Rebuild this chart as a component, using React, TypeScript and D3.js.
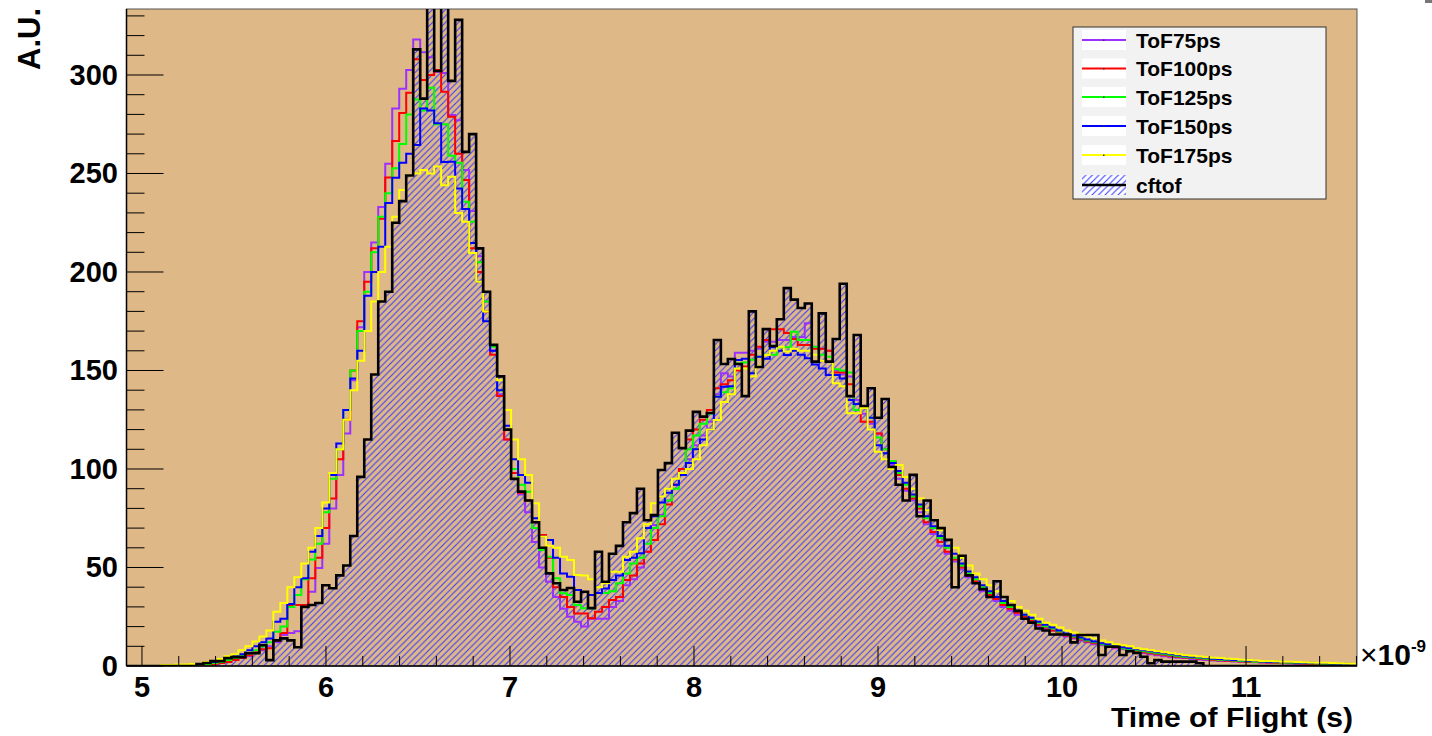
import React from 'react';
import * as d3 from 'd3';

// ---------- data ----------
const BIN_START = 4.916; // in units of 1e-9 s
const BIN_WIDTH = 0.038;
const X_DOMAIN: [number, number] = [4.916, 11.603];
const Y_DOMAIN: [number, number] = [0, 333.5];
const X_TICKS = [5, 6, 7, 8, 9, 10, 11];
const Y_TICKS = [0, 50, 100, 150, 200, 250, 300];

const cftof = [
  0, 0, 0, 0, 0, 0, 0, 0, 0, 0,
  1, 1.5, 2.5, 2.5, 4, 4.5, 4.5, 6.5, 6.5, 10.5,
  3, 13, 14, 13, 9.5, 30, 31, 32, 41, 39.5,
  46, 51, 66, 96, 115, 148, 185, 190, 225, 236,
  249, 313, 288, 345, 302, 345, 297, 328, 261, 270,
  212, 190, 163, 147, 120, 95, 88.5, 84, 73, 60,
  47, 42, 38.6, 39.6, 32.6, 37.7, 29.4, 58, 42.8, 57,
  61, 73, 77.6, 90, 74, 76.6, 99.5, 103, 118.4, 110.6,
  119.5, 129, 126.6, 128.4, 165.5, 153.3, 155.8, 153.3, 137, 180,
  151.8, 171, 162.4, 176, 191.8, 186, 181.7, 184, 154.5, 179,
  154.5, 166, 194, 137, 168, 132, 141, 126, 135.5, 101,
  92, 84, 97, 76, 84, 74, 70, 64, 40, 56,
  46, 42, 39, 35, 43, 35, 31, 28, 24, 22,
  19, 18, 16, 16, 16, 12, 15.7, 15.7, 15.7, 5.6,
  9.8, 9.8, 5.6, 7.5, 6.6, 4.7, 1.4, 3, 2.2, 2.2,
  2.2, 2.2, 2.2, 1.4, 0, 0, 0, 0, 0, 0,
  0, 0, 0, 0, 0, 0, 0, 0, 0, 0, 0, 0, 0, 0, 0, 0,
];

const tof75 = [
  0, 0, 0, 0, 0, 0, 0, 0, 0.3, 0.3,
  0.5, 1, 1, 1.5, 2, 3, 4, 5, 7, 8,
  10, 12, 15.7, 16.7, 17.7, 30, 37.7, 49.7, 62, 80,
  97, 118, 145, 172, 200, 215, 233, 255, 283, 293,
  302.5, 318, 311.6, 309, 301.7, 301, 279.7, 277, 251.8, 231,
  208, 185, 160, 138, 115, 98, 87, 78, 63, 50,
  42.8, 35, 29, 25, 22.5, 20, 24, 24, 24, 30,
  33, 41, 44, 50, 58, 71.6, 76.6, 84, 92, 98,
  105, 112, 117, 124, 138, 148.6, 147, 159, 159, 160,
  161, 164.6, 164.6, 165.5, 165.5, 167, 167, 174, 162, 161,
  160, 150, 148, 147, 135, 128, 123, 118, 108, 102,
  95, 89, 84, 78, 72, 67, 61, 57, 53, 49,
  45, 42, 38, 35, 33, 30, 28, 26, 24, 22,
  20, 19, 18, 16, 15, 14, 13, 12, 11, 10.5,
  10, 9, 8.5, 8, 7, 6.5, 6, 5.5, 5, 4.5,
  4.2, 4, 3.6, 3.3, 3, 2.8, 2.6, 2.5, 2.3, 2.1,
  2, 1.9, 1.8, 1.6, 1.5, 1.4, 1.3, 1.2, 1.1, 1,
  1, 0.9, 0.8, 0.7, 0.6, 0.5,
];

const tof100 = [
  0, 0, 0, 0, 0, 0, 0, 0, 0.3, 0.5,
  0.5, 0.8, 1, 1.5, 2, 3, 4, 5.5, 7, 8.5,
  9, 13, 16.7, 31, 31, 31, 44.6, 55, 70, 85,
  105, 125, 150, 175, 195, 212, 227, 248, 266.5, 280.7,
  291, 308, 297.5, 300, 302.5, 291.5, 278.8, 260, 246.7, 212,
  200, 180, 158, 137, 115, 98, 88, 84, 73, 66.5,
  55, 40, 35, 30, 26.7, 26.7, 24.2, 27.6, 30, 33.5,
  35, 43.7, 46, 52, 58, 64, 72, 82, 92, 100,
  115, 120, 125, 130, 141, 143, 145, 150, 152, 158,
  162, 165.5, 171, 171, 169, 166, 163, 163, 161, 161,
  160, 149, 149, 143, 133, 124, 124, 118, 110, 104,
  97, 90, 85, 80, 73, 68, 63, 58, 54, 50,
  46, 43, 39, 36, 34, 31, 29, 27, 25, 23,
  21, 19.5, 18, 17, 15.5, 14.5, 13.5, 12.5, 11.5, 11,
  10, 9.5, 9, 8, 7.5, 7, 6.5, 6, 5.5, 5,
  4.6, 4.3, 4, 3.7, 3.4, 3.1, 2.9, 2.7, 2.5, 2.3,
  2.2, 2, 1.9, 1.8, 1.7, 1.6, 1.5, 1.4, 1.3, 1.2,
  1.1, 1, 0.9, 0.8, 0.7, 0.6,
];

const tof125 = [
  0, 0, 0, 0, 0, 0, 0, 0.3, 0.5, 0.5,
  0.8, 1, 1.5, 2, 3, 4, 5, 6.5, 8, 10,
  12, 17.4, 20, 30, 36, 44, 54, 62, 78, 95,
  110, 130, 150, 170, 190, 210, 228, 240, 252.6, 265,
  280, 287.6, 282, 293.5, 275, 275, 259, 255.5, 235.7, 225.5,
  205, 185, 162, 140, 120, 100, 92, 88.5, 70, 58.9,
  55.5, 44.5, 36.9, 36, 31, 29.3, 29.3, 37, 37, 38,
  42, 47, 52, 55, 62, 70, 76, 84, 90, 97,
  110, 117, 123, 128, 136.7, 139, 141, 153.6, 154, 155.5,
  157, 158, 158, 161.8, 161.8, 169.7, 165.5, 165.5, 162, 158,
  157, 150.6, 150, 149, 130, 131, 126, 116, 110, 104,
  98, 92, 86, 81, 75, 70, 65, 60, 55, 51,
  47, 44, 40, 37, 35, 32, 30, 28, 26, 24,
  22, 20, 19, 17.5, 16, 15, 14, 13, 12, 11,
  10.5, 10, 9, 8.5, 8, 7.5, 7, 6.5, 6, 5.5,
  5, 4.6, 4.3, 4, 3.7, 3.4, 3.2, 3, 2.8, 2.6,
  2.4, 2.2, 2.1, 2, 1.9, 1.8, 1.7, 1.6, 1.5, 1.4,
  1.3, 1.2, 1.1, 1, 0.9, 0.8,
];

const tof150 = [
  0, 0, 0, 0, 0, 0, 0.3, 0.3, 0.5, 0.8,
  1, 1.5, 2, 3, 4, 5, 6, 8, 10, 12,
  14, 22.5, 24, 31.5, 40, 44.6, 58, 66, 80, 97,
  113, 130, 146, 160, 188, 200, 212.8, 235, 247.9, 255.5,
  260, 264.5, 283, 282, 275.5, 255.8, 256, 242.4, 232, 214.7,
  195, 175, 160, 140, 122, 105, 97, 93, 75, 65.6,
  64, 55, 47, 45.3, 38.6, 37.6, 36, 37, 39.4, 43.7,
  46, 53.8, 55, 57.2, 70, 76, 83, 88, 92, 97,
  103, 110, 115, 120, 136.7, 141.8, 142, 155.3, 156, 148.6,
  157, 156, 161.8, 160, 157.9, 160, 158, 156.2, 153, 151,
  147.7, 147.7, 146, 135, 133, 131.6, 126, 112, 108, 103,
  99, 93, 87, 82, 76, 71, 66, 61, 57, 52,
  48, 45, 41, 38, 35, 33, 31, 28, 26, 24.5,
  22.5, 21, 19.5, 18, 16.5, 15.5, 14.5, 13.5, 12.5, 11.5,
  11, 10, 9.5, 9, 8.5, 8, 7.5, 7, 6.5, 6,
  5.5, 5, 4.7, 4.4, 4, 3.7, 3.5, 3.3, 3.1, 2.9,
  2.7, 2.5, 2.3, 2.2, 2.1, 2, 1.9, 1.8, 1.7, 1.6,
  1.5, 1.4, 1.3, 1.2, 1.1, 1,
];

const tof175 = [
  0, 0, 0, 0, 0, 0.5, 0.5, 0.8, 0.8, 1,
  1, 2, 2.5, 3.5, 5, 6, 8, 10, 12.5, 15,
  18, 27.6, 32, 40, 45, 52, 60, 70, 83, 98,
  110, 125, 140, 155, 170, 185, 200, 212.8, 228, 241.6,
  249, 250, 251.8, 250, 253.5, 244, 248.4, 229.9, 225.5, 209.6,
  195, 180, 163, 145, 130, 115, 105, 97, 82.6, 65.6,
  61, 60, 55.5, 53.8, 46.2, 46, 44, 40, 42, 47.9,
  47.9, 55.5, 58, 64.8, 72, 82.6, 86, 90, 95, 98,
  100, 105, 112, 120, 124.9, 134, 138, 151, 151, 146.9,
  152, 157.9, 160, 162, 159.6, 161, 160, 160, 158, 155,
  154.5, 143.5, 142, 128.3, 128.3, 131, 120, 108.8, 105, 100,
  102, 96, 90, 85, 79, 74, 69, 64, 60, 55,
  51, 47, 44, 41, 38, 35, 33, 30, 28, 26,
  24, 22, 21, 19.5, 18, 17, 16, 15, 14, 13,
  12, 11, 10.5, 10, 9, 8.5, 8, 7.5, 7, 6.5,
  6, 5.5, 5.2, 4.8, 4.5, 4.2, 4, 3.7, 3.5, 3.2,
  3, 2.8, 2.6, 2.5, 2.4, 2.2, 2.1, 2, 1.9, 1.8,
  1.7, 1.6, 1.5, 1.4, 1.3, 1.2,
];

const SERIES_NAMES = ['ToF75ps', 'ToF100ps', 'ToF125ps', 'ToF150ps', 'ToF175ps'];
const SERIES_COLORS = ['#9b30ff', '#ff0000', '#00ff00', '#0000ff', '#ffff00'];
const SERIES_VALUES = [tof75, tof100, tof125, tof150, tof175];
const REF_NAME = 'cftof';

// ---------- component ----------
export default function App() {
  const W = 1432;
  const H = 736;
  const L = 126.5;
  const R = 1357;
  const T = 9;
  const B = 666;
  const FONT = '"Liberation Sans", Arial, Helvetica, sans-serif';

  const x = d3.scaleLinear().domain(X_DOMAIN).range([L, R]);
  const y = d3.scaleLinear().domain(Y_DOMAIN).range([B, T]);

  const stepPoints = (vals: number[]): [number, number][] => {
    const pts: [number, number][] = [[x(BIN_START), y(0)]];
    vals.forEach((v, k) => {
      const x0 = x(BIN_START + k * BIN_WIDTH);
      const x1 = x(BIN_START + (k + 1) * BIN_WIDTH);
      pts.push([x0, y(v)], [x1, y(v)]);
    });
    pts.push([x(BIN_START + vals.length * BIN_WIDTH), y(0)]);
    return pts;
  };
  const line = d3.line<[number, number]>();

  const xMinor = d3.range(0, 34).map((i) => 5 + i * 0.2).filter((v) => v <= X_DOMAIN[1]);
  const yMinor = d3.range(0, 34).map((i) => i * 10).filter((v) => v <= Y_DOMAIN[1]);

  const legendX = 1073;
  const legendY = 27;
  const legendW = 253;
  const legendH = 172;
  const rowYs = [40, 68.5, 97, 126, 155, 185];

  return (
    <svg
      width={W}
      height={H}
      viewBox={`0 0 ${W} ${H}`}
      style={{ position: 'absolute', left: 0, top: 0, background: '#ffffff' }}
      fontFamily={FONT}
    >
      <defs>
        <clipPath id="frameClip">
          <rect x={L} y={T} width={R - L} height={B - T} />
        </clipPath>
        <pattern id="hatch" patternUnits="userSpaceOnUse" width={6.5} height={6.5}>
          <path d="M-1,1 L1,-1 M0,6.5 L6.5,0 M5.5,7.5 L7.5,5.5" stroke="#3a3aff" strokeWidth={1.1} />
        </pattern>
      </defs>

      <rect x={0} y={0} width={W} height={H} fill="#ffffff" />
      <rect x={1425} y={0} width={7} height={3} fill="#777" />

      {/* frame */}
      <rect x={L} y={T} width={R - L} height={B - T} fill="#deb887" stroke="#555" strokeWidth={1} />

      <g clipPath="url(#frameClip)">
        {/* hatched reference histogram area */}
        <path d={line(stepPoints(cftof)) + 'Z'} fill="url(#hatch)" stroke="none" />
        {SERIES_VALUES.map((vals, i) => (
          <path
            key={SERIES_NAMES[i]}
            d={line(stepPoints(vals)) || ''}
            fill="none"
            stroke={SERIES_COLORS[i]}
            strokeWidth={2}
            strokeLinejoin="miter"
          />
        ))}
        <path d={line(stepPoints(cftof)) || ''} fill="none" stroke="#000" strokeWidth={2.6} />
      </g>

      {/* axes */}
      <line x1={L} y1={T} x2={L} y2={B} stroke="#000" strokeWidth={1.5} />
      <line x1={L} y1={B} x2={R} y2={B} stroke="#000" strokeWidth={1.5} />

      {yMinor.map((v) => (
        <line key={'ym' + v} x1={L} x2={L + (v % 50 === 0 ? 37 : 18)} y1={y(v)} y2={y(v)} stroke="#000" strokeWidth={1} />
      ))}
      {xMinor.map((v) => {
        const major = Math.abs(v - Math.round(v)) < 1e-6;
        return <line key={'xm' + v} x1={x(v)} x2={x(v)} y1={B} y2={B - (major ? 20 : 10)} stroke="#000" strokeWidth={1} />;
      })}

      {Y_TICKS.map((v) => (
        <text key={'yl' + v} x={118} y={y(v) + 10} textAnchor="end" fontSize={29} fontWeight="bold" fill="#000">
          {v}
        </text>
      ))}
      {X_TICKS.map((v) => (
        <text key={'xl' + v} x={x(v)} y={697} textAnchor="middle" fontSize={29} fontWeight="bold" fill="#000">
          {v}
        </text>
      ))}

      <text x={1353} y={727} textAnchor="end" fontSize={28} fontWeight="bold" textLength={242} lengthAdjust="spacingAndGlyphs">
        Time of Flight (s)
      </text>
      <text transform="translate(40,8) rotate(-90)" textAnchor="end" fontSize={31} fontWeight="bold">
        A.U.
      </text>
      <text x={1360} y={665} fontSize={30} fontWeight="bold">
        <tspan fontWeight="normal">×</tspan>10<tspan dy={-13} fontSize={17}>-9</tspan>
      </text>

      {/* legend */}
      <rect x={legendX} y={legendY} width={legendW} height={legendH} fill="#f2f2f2" stroke="#333" strokeWidth={1} />
      {SERIES_NAMES.map((name, i) => (
        <g key={'lg' + name}>
          <rect x={1082} y={rowYs[i] - 10} width={44} height={20} fill="#ffffff" />
          <line x1={1082} x2={1126} y1={rowYs[i]} y2={rowYs[i]} stroke={SERIES_COLORS[i]} strokeWidth={2} />
          <rect x={1103} y={rowYs[i] - 0.5} width={1.5} height={1.5} fill="#333" />
          <text x={1136} y={rowYs[i] + 7.5} fontSize={21} fontWeight="bold" fill="#000">
            {name}
          </text>
        </g>
      ))}
      <g>
        <rect x={1082} y={rowYs[5] - 10} width={44} height={20} fill="#ffffff" />
        <rect x={1082} y={rowYs[5] - 10} width={44} height={20} fill="url(#hatch)" />
        <line x1={1082} x2={1126} y1={rowYs[5]} y2={rowYs[5]} stroke="#000" strokeWidth={2.6} />
        <text x={1136} y={rowYs[5] + 7.5} fontSize={21} fontWeight="bold" fill="#000">
          {REF_NAME}
        </text>
      </g>
    </svg>
  );
}
